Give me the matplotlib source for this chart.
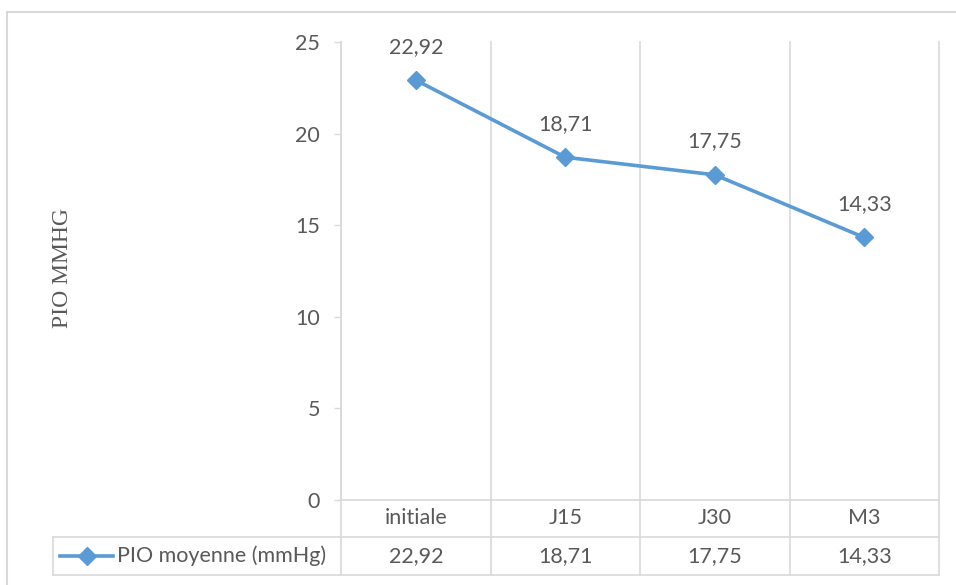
import matplotlib
matplotlib.use("Agg")
import matplotlib.pyplot as plt
import matplotlib.transforms as mtransforms
from matplotlib.lines import Line2D

# Data
categories = ["initiale", "J15", "J30", "M3"]
pio_values = [22.92, 18.71, 17.75, 14.33]
series_name = "PIO moyenne (mmHg)"
y_ticks = [0, 5, 10, 15, 20, 25]
y_title = "PIO MMHG"

# Styling
LINE_COLOR = "#5B9BD5"
TEXT_COLOR = "#595959"
GRID_COLOR = "#D9D9D9"
FONT = ["Lato", "DejaVu Sans"]
FS = 15.5

W, H = 956, 585
fig = plt.figure(figsize=(W / 100, H / 100), dpi=100)


def fx(px):
    return px / W


def fy(py):
    return 1 - py / H


# plot area (pixel box)
L, R, T, B = 341, 939, 42, 500
ax = fig.add_axes([fx(L), fy(B), fx(R) - fx(L), (B - T) / H])

x = list(range(len(categories)))
ax.plot(x, pio_values, color=LINE_COLOR, lw=2.6, marker="D", ms=9,
        mfc=LINE_COLOR, mec=LINE_COLOR, zorder=3)


def fmt(v):
    return f"{v:.2f}".replace(".", ",")


for xi, v in zip(x, pio_values):
    ax.annotate(fmt(v), (xi, v), xytext=(0, 24), textcoords="offset points",
                ha="center", va="center", color=TEXT_COLOR, fontsize=FS,
                family=FONT)

ax.set_xlim(-0.5, len(categories) - 0.5)
ax.set_ylim(0, 25)
ax.set_yticks(y_ticks)
ax.set_yticklabels([str(t) for t in y_ticks], family=FONT, fontsize=FS,
                   color=TEXT_COLOR)
ax.tick_params(axis="y", length=5, width=1, color=GRID_COLOR, pad=10)
ax.set_xticks([])

for s in ["top", "right", "bottom"]:
    ax.spines[s].set_visible(False)
ax.spines["left"].set_color(GRID_COLOR)
ax.spines["left"].set_linewidth(1.2)
ax.patch.set_visible(False)

# data table below the plot
blend = mtransforms.blended_transform_factory(ax.transData, fig.transFigure)
TABLE_MID, TABLE_BOT, TABLE_LEFT = 537, 575, 53
lw = 1.2

# vertical category boundaries (grid + table columns)
for b in range(len(categories) + 1):
    xb = b - 0.5
    fig.add_artist(Line2D([xb, xb], [fy(T), fy(TABLE_BOT)], transform=blend,
                          color=GRID_COLOR, lw=lw, zorder=0))

# horizontal table rules
fig.add_artist(Line2D([fx(L), fx(R)], [fy(B), fy(B)], transform=fig.transFigure,
                      color=GRID_COLOR, lw=lw))
for yy in (TABLE_MID, TABLE_BOT):
    fig.add_artist(Line2D([fx(TABLE_LEFT), fx(R)], [fy(yy), fy(yy)],
                          transform=fig.transFigure, color=GRID_COLOR, lw=lw))
fig.add_artist(Line2D([fx(TABLE_LEFT), fx(TABLE_LEFT)],
                      [fy(TABLE_MID), fy(TABLE_BOT)],
                      transform=fig.transFigure, color=GRID_COLOR, lw=lw))

cat_y = fy((B + TABLE_MID) / 2)
val_y = fy((TABLE_MID + TABLE_BOT) / 2)
for xi, c, v in zip(x, categories, pio_values):
    fig.text(xi, cat_y, c, transform=blend, ha="center", va="center",
             color=TEXT_COLOR, fontsize=FS, family=FONT)
    fig.text(xi, val_y, fmt(v), transform=blend, ha="center", va="center",
             color=TEXT_COLOR, fontsize=FS, family=FONT)

# legend key in the table's row header
fig.add_artist(Line2D([fx(60), fx(113)], [val_y, val_y], transform=fig.transFigure,
                      color=LINE_COLOR, lw=2.6))
fig.add_artist(Line2D([fx(87)], [val_y], transform=fig.transFigure,
                      color=LINE_COLOR, marker="D", ms=9, lw=0))
fig.text(fx(117), val_y, series_name, ha="left", va="center",
         color=TEXT_COLOR, fontsize=FS, family=FONT)

# y-axis title
fig.text(fx(62), fy(268), y_title, rotation=90, ha="center", va="center",
         color=TEXT_COLOR, fontsize=17, family=["Liberation Serif", "DejaVu Serif"])

# chart frame
fig.add_artist(Line2D([fx(7), 1], [fy(12), fy(12)], transform=fig.transFigure,
                      color=GRID_COLOR, lw=1.5))
fig.add_artist(Line2D([fx(7), fx(7)], [fy(12), 0], transform=fig.transFigure,
                      color=GRID_COLOR, lw=1.5))

fig.savefig("out.png", dpi=100, facecolor="white")
